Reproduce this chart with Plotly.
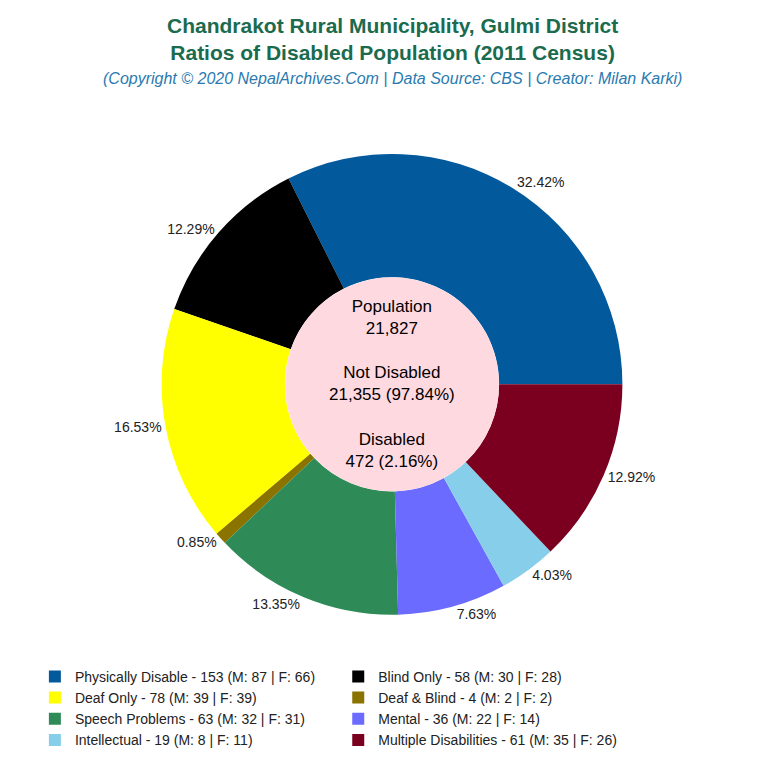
import plotly.graph_objects as go

names = ["Physically Disable", "Blind Only", "Deaf Only", "Deaf & Blind", "Speech Problems", "Mental", "Intellectual", "Multiple Disabilities"]
totals = [153, 58, 78, 4, 63, 36, 19, 61]
males = [87, 30, 39, 2, 32, 22, 8, 35]
females = [66, 28, 39, 2, 31, 14, 11, 26]
colors = ["#02599C", "#000000", "#FFFF00", "#8B7300", "#2E8B57", "#6B6BFF", "#87CEEB", "#7B0020"]
population = 21827
not_disabled = 21355
disabled = 472

legend_labels = [f"{n} - {t} (M: {m} | F: {f})" for n, t, m, f in zip(names, totals, males, females)]
start_rot = 90 - 360 * totals[0] / sum(totals)

fig = go.Figure(go.Pie(
    labels=legend_labels, values=totals, marker=dict(colors=colors),
    sort=False, direction="counterclockwise", rotation=start_rot, hole=0.465,
    textposition="outside", texttemplate="%{percent:.2%}",
    textfont=dict(family="Liberation Sans, Arial", size=14, color="#222"),
    domain=dict(x=[0.2, 0.8], y=[0.21, 0.81]), showlegend=True,
))

cy = 0.51
r = 107 / 768
fig.add_shape(type="circle", xref="paper", yref="paper",
              x0=0.5 - r, x1=0.5 + r, y0=cy - r, y1=cy + r,
              fillcolor="#FFD9E0", line=dict(width=0), layer="above")

center_text = (f"Population<br>{population:,}<br><br>Not Disabled<br>{not_disabled:,} ({not_disabled/population*100:.2f}%)"
               f"<br><br>Disabled<br>{disabled} ({disabled/population*100:.2f}%)")
fig.add_annotation(x=0.5, y=cy, xref="paper", yref="paper", text=center_text, showarrow=False,
                   font=dict(family="Liberation Sans, Arial", size=17, color="#000"))

fig.add_annotation(x=0.5, y=0.995, xref="paper", yref="paper", yanchor="top", showarrow=False,
                   text="<b>Chandrakot Rural Municipality, Gulmi District<br>Ratios of Disabled Population (2011 Census)</b>",
                   font=dict(family="Liberation Sans, Arial", size=21, color="#1B6B4F"))
fig.add_annotation(x=0.5, y=0.922, xref="paper", yref="paper", yanchor="top", showarrow=False,
                   text="<i>(Copyright © 2020 NepalArchives.Com | Data Source: CBS | Creator: Milan Karki)</i>",
                   font=dict(family="Liberation Sans, Arial", size=16, color="#2A7AB0"))

fig.update_layout(
    width=768, height=768, margin=dict(l=0, r=0, t=0, b=0),
    paper_bgcolor="white", plot_bgcolor="white",
    legend=dict(orientation="h", x=0.035, y=0.15, xanchor="left", yanchor="top",
                entrywidth=0.395, entrywidthmode="fraction", traceorder="normal",
                font=dict(family="Liberation Sans, Arial", size=14, color="#222")),
)
fig.write_html("out.html")
